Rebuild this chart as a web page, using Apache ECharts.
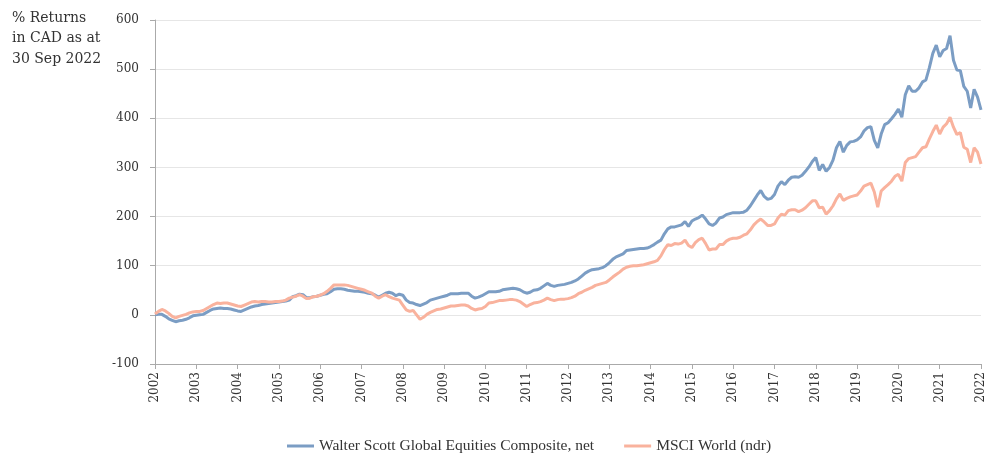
<!DOCTYPE html>
<html>
<head>
<meta charset="utf-8">
<script src="https://cdn.jsdelivr.net/npm/echarts@6/dist/echarts.min.js"></script>
<style>
html,body{margin:0;padding:0;background:#fff;}
#chart{width:995px;height:453px;}
</style>
</head>
<body>
<div id="chart"></div>
<script>
// Years shown on the x axis (each year has 12 monthly points, plus a final point at 2022)
const years = [2002,2003,2004,2005,2006,2007,2008,2009,2010,2011,2012,2013,2014,2015,2016,2017,2018,2019,2020,2021,2022];

// Walter Scott Global Equities Composite, net (% cumulative return), monthly
const walterScott = [
  0,1,1,-3,-8,-11,-14,-12,-11,-9,-6,-2,
  -1,0,1,5,9,12,13,14,13,13,12,10,
  8,7,10,13,16,18,19,21,22,23,24,25,
  26,27,28,30,37,39,42,41,35,35,37,38,
  40,42,43,47,52,53,53,52,50,49,48,48,
  47,46,44,43,40,36,40,44,46,44,39,42,
  40,30,25,24,21,19,22,25,30,32,34,36,
  38,40,43,43,43,44,44,44,38,34,36,39,
  43,47,47,47,48,51,52,53,54,53,51,47,
  44,46,50,51,54,59,64,60,58,60,61,62,
  64,66,69,73,79,85,89,92,93,94,96,100,
  106,113,118,121,124,131,132,133,134,135,135,136,
  139,143,148,152,165,175,179,179,181,183,190,180,
  191,195,198,203,195,185,182,187,197,199,204,206,
  208,208,208,209,213,222,233,244,253,241,235,237,
  245,262,271,265,274,280,281,280,284,292,301,312,
  320,294,306,292,300,315,340,353,331,345,352,353,
  356,362,374,381,383,355,340,368,387,391,399,408,
  419,402,448,466,455,455,462,474,478,503,532,549,
  525,538,542,568,518,498,497,465,455,421,459,443,
  417
];

// MSCI World (ndr) (% cumulative return), monthly
const msciWorld = [
  2,7,11,8,3,-3,-6,-3,-1,1,4,6,
  7,7,9,13,17,21,24,23,24,24,22,20,
  18,17,20,23,26,27,26,27,27,26,26,27,
  27,28,30,34,36,38,41,38,33,34,37,38,
  40,43,48,54,61,61,61,61,60,58,56,54,
  52,50,47,44,38,34,38,41,37,34,32,30,
  20,10,7,9,0,-9,-5,1,5,8,11,12,
  14,16,18,18,19,20,20,18,13,10,12,13,
  17,24,25,27,29,29,30,31,31,30,27,22,
  17,21,24,25,27,30,34,31,29,31,32,32,
  33,35,38,43,46,50,53,56,60,62,64,66,
  71,77,82,87,93,97,99,100,100,101,102,104,
  106,108,111,120,133,143,141,145,144,146,152,141,
  137,147,153,156,145,132,134,134,143,143,150,154,
  156,156,158,162,165,173,183,190,195,189,182,182,
  185,197,205,203,212,214,214,210,213,218,225,232,
  232,218,219,205,212,222,236,246,233,237,240,242,
  244,252,262,265,268,250,219,252,259,265,272,282,
  286,272,310,318,320,322,331,340,342,358,373,386,
  368,382,389,402,382,367,371,341,337,310,340,331,
  307
];

const seriesNames = ['Walter Scott Global Equities Composite, net', 'MSCI World (ndr)'];
const yTicks = { min: -100, max: 600, interval: 100 };
const titleLines = ['% Returns', 'in CAD as at', '30 Sep 2022'];

// monthly category labels built from the years list
const categories = [];
years.forEach((y, k) => {
  const months = (k === years.length - 1) ? 1 : 12;
  for (let m = 0; m < months; m++) categories.push(y + '-' + (m + 1));
});

const FONT = 'DejaVu Serif';
const chart = echarts.init(document.getElementById('chart'), null, { renderer: 'canvas' });
chart.setOption({
  animation: false,
  backgroundColor: '#ffffff',
  grid: { left: 155, right: 14, top: 20, bottom: 89, containLabel: false },
  graphic: [{
    type: 'text', left: 12, top: 8,
    style: { text: titleLines.join('\n'), font: '14px "DejaVu Serif"', fill: '#333', lineHeight: 20.5 }
  }],
  legend: {
    data: seriesNames,
    left: 282, top: 433,
    itemWidth: 27, itemHeight: 3, itemGap: 30,
    icon: 'rect',
    textStyle: { fontFamily: 'Liberation Serif', fontSize: 15.5, color: '#333' }
  },
  xAxis: {
    type: 'category',
    data: categories,
    boundaryGap: false,
    axisLine: { onZero: false, lineStyle: { color: '#aaaaaa', width: 1 } },
    axisTick: { show: true, interval: (i) => i % 12 === 0, length: 5, lineStyle: { color: '#aaaaaa' } },
    axisLabel: {
      interval: (i) => i % 12 === 0,
      rotate: 90,
      formatter: (v) => v.split('-')[0],
      fontFamily: FONT, fontSize: 12, color: '#333', margin: 8
    },
    splitLine: { show: false }
  },
  yAxis: {
    type: 'value',
    min: yTicks.min, max: yTicks.max, interval: yTicks.interval,
    axisLine: { show: true, lineStyle: { color: '#aaaaaa', width: 1 } },
    axisTick: { show: true, length: 5, lineStyle: { color: '#aaaaaa' } },
    axisLabel: { fontFamily: FONT, fontSize: 12, color: '#333', margin: 16 },
    splitLine: { show: true, lineStyle: { color: '#e6e6e6', width: 1 } }
  },
  series: [
    {
      name: seriesNames[0], type: 'line', data: walterScott,
      symbol: 'none', smooth: false,
      lineStyle: { color: '#7b9dc4', width: 3 },
      itemStyle: { color: '#7b9dc4' }
    },
    {
      name: seriesNames[1], type: 'line', data: msciWorld,
      symbol: 'none', smooth: false,
      lineStyle: { color: '#f9b29d', width: 3 },
      itemStyle: { color: '#f9b29d' }
    }
  ]
});
</script>
</body>
</html>
